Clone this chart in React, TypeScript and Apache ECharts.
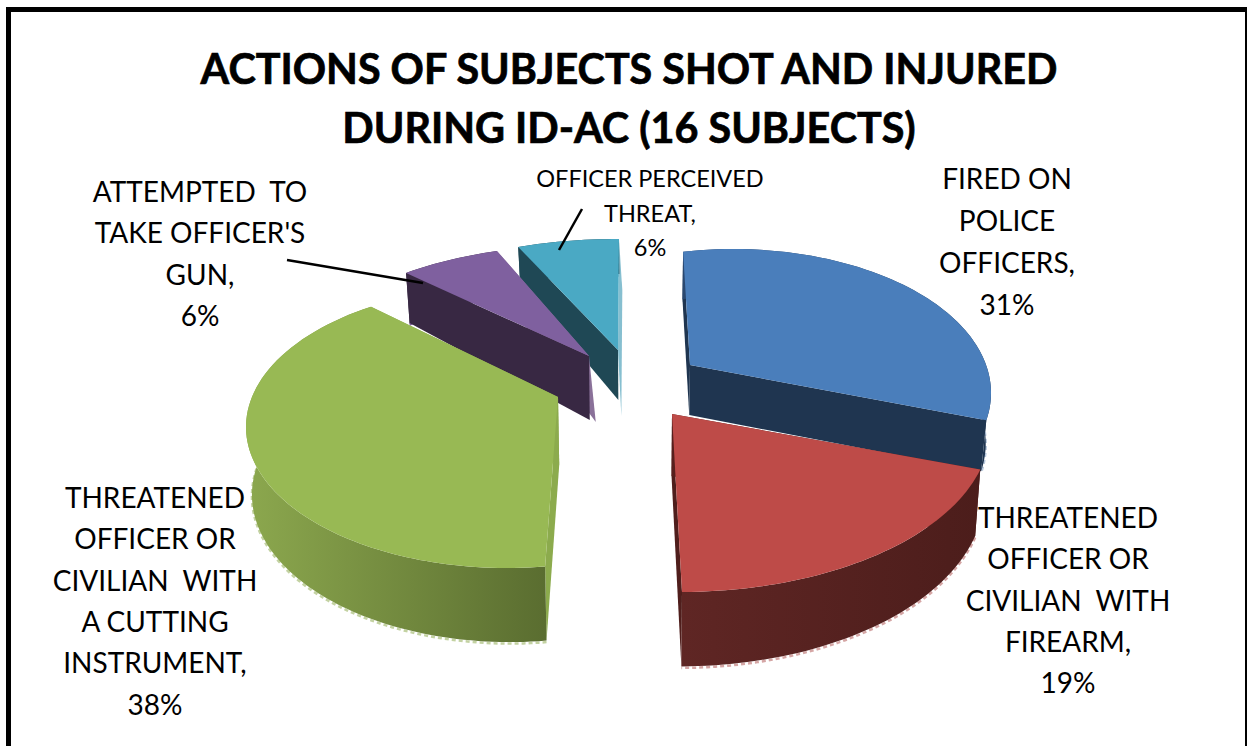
import React, { useEffect, useRef } from "react";
import * as echarts from "echarts";

const categories = [
  "FIRED ON\nPOLICE\nOFFICERS,",
  "THREATENED\nOFFICER OR\nCIVILIAN  WITH\nFIREARM,",
  "THREATENED\nOFFICER OR\nCIVILIAN  WITH\nA CUTTING\nINSTRUMENT,",
  "ATTEMPTED  TO\nTAKE OFFICER'S\nGUN,",
  "OFFICER PERCEIVED\nTHREAT,",
];
const percents = [31, 19, 38, 6, 6];
const titleText = "ACTIONS OF SUBJECTS SHOT AND INJURED\nDURING ID-AC (16 SUBJECTS)";

// Exploded 3D look of each slice: apex of the top face, how angles project to rays (a, s, c, b),
// the ellipse the rays end on (ex, ey, erx, ery), wall depth and colours.
const looks = [
  { ax: 690, ay: 365, a: 314, s: 7, b: 115, c: 13.6, ex: 43, ey: 28, erx: 258, ery: 144, d: 50, dk: 0.05, z: 3, top: "#4a7ebb", startWall: "#1f3550", endWall: "#1f3550", outer: ["#2a4870", "#1f3550"], fringe: "#b9c9dd", endShift: 0, endExtra: 0 },
  { ax: 672, ay: 414, a: 332, s: 10, b: 178, c: -10, ex: 8, ey: 15, erx: 310, ery: 163, d: 62, dk: 0.2, z: 4, top: "#be4b48", startWall: "#571f1d", endWall: "#4f1e1c", outer: ["#5f2624", "#4c1d1b"], fringe: "#d5a6a5", endShift: 0, endExtra: 0 },
  { ax: 558, ay: 397, a: 312, s: -13, b: 171, c: -38, ex: -51, ey: 30, erx: 261, ery: 141, d: 68, dk: 0.09, z: 5, top: "#98b954", startWall: "#8cab4d", endWall: "#8cab4d", outer: ["#8ca84e", "#5a6d30"], fringe: "#c3d2a2", endShift: 0, endExtra: 0 },
  { ax: 589, ay: 356, a: 280, s: -12, b: 112, c: 2, ex: 0, ey: 0, erx: 274, ery: 111.5, d: 64, dk: 0.3, z: 2, top: "#7f609f", startWall: "#382843", endWall: "#8a7199", outer: ["#382843", "#382843"], fringe: "#7f609f", endShift: 6, endExtra: 2 },
  { ax: 618, ay: 350, a: 274, s: -1, b: 111, c: 0, ex: 0, ey: 0, erx: 268, ery: 111, d: 50, dk: 0.3, z: 1, top: "#4aa9c4", startWall: "#1f4855", endWall: "#86bfd0", outer: ["#1f4855", "#1f4855"], fringe: "#a9cdd8", endShift: 3, endExtra: 16 },
];

const labelBoxes = [
  { x: 1007, y: 157, size: 28, lh: 42 },
  { x: 1068, y: 496, size: 28, lh: 41.4 },
  { x: 155, y: 476, size: 28, lh: 41.4 },
  { x: 200, y: 170, size: 28, lh: 41.5 },
  { x: 650, y: 161, size: 23.5, lh: 34.5 },
];
const leaders = [
  [287, 260, 423, 283],
  [582, 209, 559, 250],
];

const total = percents.reduce((p, q) => p + q, 0);
const VANISH_X = 640;
const SHRINK = 0.985;

function pointOf(look: any, deg: number, onRim: boolean, bottom: boolean) {
  const t = (deg * Math.PI) / 180;
  let x = look.ax;
  let y = look.ay;
  let v = 0;
  if (onRim) {
    const X = Math.sin(t);
    v = -Math.cos(t);
    const dx = look.a * X + look.s * v;
    const dy = look.b * v + look.c * X;
    const A = (dx * dx) / (look.erx * look.erx) + (dy * dy) / (look.ery * look.ery);
    const B = -2 * ((dx * look.ex) / (look.erx * look.erx) + (dy * look.ey) / (look.ery * look.ery));
    const C = (look.ex * look.ex) / (look.erx * look.erx) + (look.ey * look.ey) / (look.ery * look.ery) - 1;
    const l = (-B + Math.sqrt(B * B - 4 * A * C)) / (2 * A);
    x += dx * l;
    y += dy * l;
  }
  if (bottom) {
    x = VANISH_X + (x - VANISH_X) * SHRINK;
    y += look.d * (1 + look.dk * v);
  }
  return [x, y];
}

function arcOf(look: any, from: number, to: number, bottom: boolean) {
  const pts: number[][] = [];
  const n = Math.max(2, Math.ceil((to - from) / 1.5));
  for (let i = 0; i <= n; i++) pts.push(pointOf(look, from + ((to - from) * i) / n, true, bottom));
  return pts;
}

function renderSlice(params: any) {
  const i = params.dataIndex;
  const look = looks[i];
  let sum = 0;
  for (let j = 0; j < i; j++) sum += percents[j];
  const from = (sum / total) * 360;
  const to = ((sum + percents[i]) / total) * 360;
  const apex = pointOf(look, 0, false, false);
  const apexB = pointOf(look, 0, false, true);
  const topArc = arcOf(look, from, to, false);
  const botArc = arcOf(look, from, to, true);
  const z = look.z * 10;
  const wall = (deg: number, fill: string, z2: number, shift: number, extra: number) => {
    const rimB = pointOf(look, deg, true, true);
    return {
      type: "polygon",
      z2,
      shape: { points: [apex, pointOf(look, deg, true, false), [rimB[0] + shift, rimB[1] + extra], [apexB[0] + shift, apexB[1] + extra]] },
      style: { fill },
    };
  };
  const children: any[] = [
    {
      type: "polyline",
      z2: z,
      shape: { points: botArc.map((p) => [p[0], p[1] + 1.5]) },
      style: { stroke: look.fringe, fill: "none", lineWidth: 2.5, lineDash: [4, 3] },
    },
    wall(to, look.endWall, z + 1, look.endShift, look.endExtra),
    wall(from, look.startWall, z + 2, 0, 0),
    {
      type: "polygon",
      z2: z + 3,
      shape: { points: topArc.concat(botArc.slice().reverse()) },
      style: {
        fill: new echarts.graphic.LinearGradient(0, 0, 1, 0, [
          { offset: 0, color: look.outer[0] },
          { offset: 1, color: look.outer[1] },
        ]),
      },
    },
    {
      type: "polygon",
      z2: z + 4,
      shape: { points: [apex].concat(topArc) },
      style: { fill: look.top },
    },
  ];
  return { type: "group", children };
}

export default function App() {
  const ref = useRef<HTMLDivElement>(null);
  useEffect(() => {
    const chart = echarts.init(ref.current!, null, { renderer: "svg" });
    chart.setOption({
      animation: false,
      backgroundColor: "#ffffff",
      title: {
        text: titleText,
        left: 624,
        top: 33,
        textAlign: "center",
        textStyle: { fontFamily: "Lato", fontWeight: "bold", fontSize: 41.3, lineHeight: 59, color: "#000000", textBorderColor: "#000000", textBorderWidth: 0.7 },
      },
      graphic: [
        { type: "rect", shape: { x: 8.5, y: 9.5, width: 1239, height: 800 }, style: { fill: "none", stroke: "#000000", lineWidth: 5 } },
        ...leaders.map((l) => ({
          type: "line",
          z: 10,
          shape: { x1: l[0], y1: l[1], x2: l[2], y2: l[3] },
          style: { stroke: "#000000", lineWidth: 2.5 },
        })),
        ...categories.map((c, i) => ({
          type: "text",
          z: 10,
          style: {
            x: labelBoxes[i].x,
            y: labelBoxes[i].y,
            text: `${c}\n${percents[i]}%`,
            textAlign: "center",
            textVerticalAlign: "top",
            fontFamily: "Lato",
            fontSize: labelBoxes[i].size,
            lineHeight: labelBoxes[i].lh,
            fill: "#000000",
          },
        })),
      ],
      series: [
        {
          type: "custom",
          coordinateSystem: "none",
          renderItem: renderSlice,
          data: percents,
          silent: true,
        },
      ],
    });
    return () => chart.dispose();
  }, []);
  return <div ref={ref} style={{ position: "absolute", left: 0, top: 0, width: 1247, height: 746 }} />;
}
